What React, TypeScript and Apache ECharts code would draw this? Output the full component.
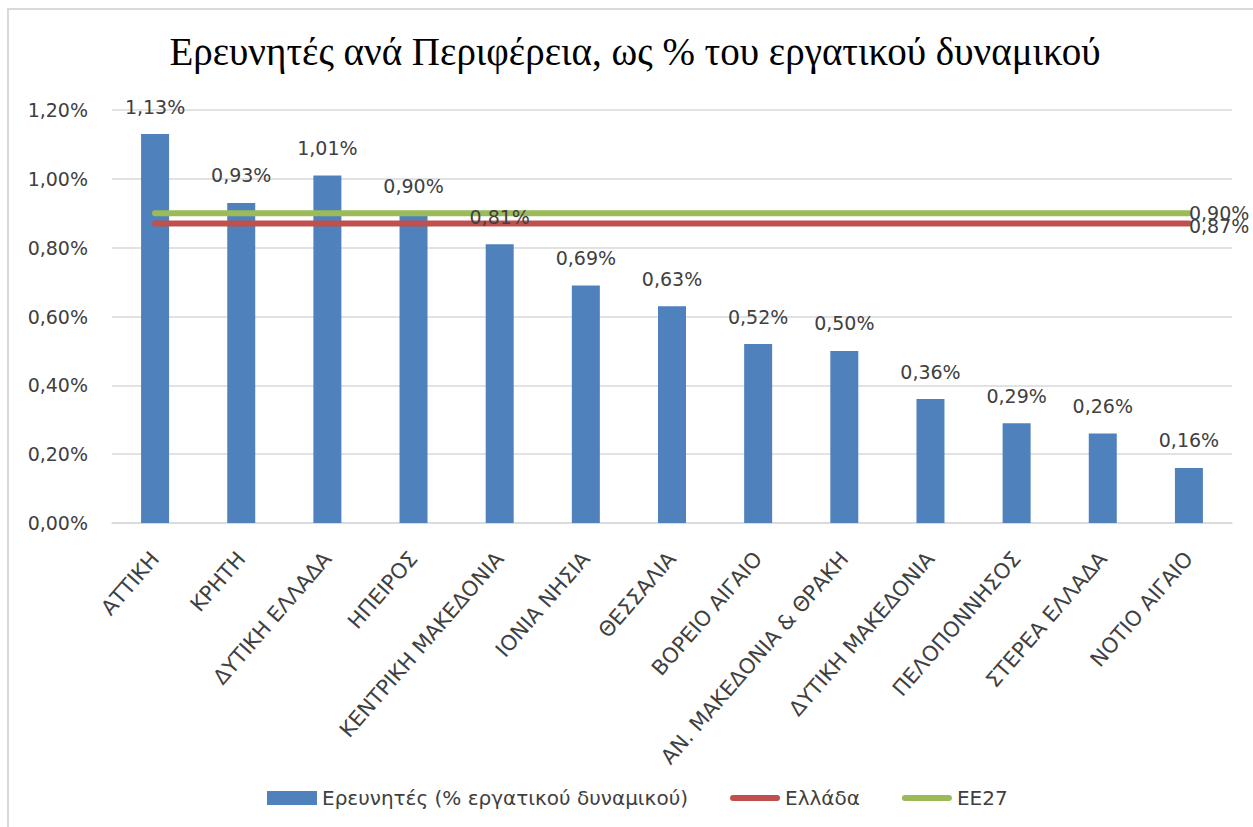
import React, { useEffect, useRef } from "react";
import * as echarts from "echarts";

const categories = [
  "ΑΤΤΙΚΗ",
  "ΚΡΗΤΗ",
  "ΔΥΤΙΚΗ ΕΛΛΑΔΑ",
  "ΗΠΕΙΡΟΣ",
  "ΚΕΝΤΡΙΚΗ ΜΑΚΕΔΟΝΙΑ",
  "ΙΟΝΙΑ ΝΗΣΙΑ",
  "ΘΕΣΣΑΛΙΑ",
  "ΒΟΡΕΙΟ ΑΙΓΑΙΟ",
  "ΑΝ. ΜΑΚΕΔΟΝΙΑ & ΘΡΑΚΗ",
  "ΔΥΤΙΚΗ ΜΑΚΕΔΟΝΙΑ",
  "ΠΕΛΟΠΟΝΝΗΣΟΣ",
  "ΣΤΕΡΕΑ ΕΛΛΑΔΑ",
  "ΝΟΤΙΟ ΑΙΓΑΙΟ",
];

const researchers = [1.13, 0.93, 1.01, 0.9, 0.81, 0.69, 0.63, 0.52, 0.5, 0.36, 0.29, 0.26, 0.16];
const greeceValue = 0.87;
const eu27Value = 0.9;
const greece = categories.map(() => greeceValue);
const eu27 = categories.map(() => eu27Value);

const seriesNames = ["Ερευνητές (% εργατικού δυναμικού)", "Ελλάδα", "ΕΕ27"];
const titleText = "Ερευνητές ανά Περιφέρεια, ως % του εργατικού δυναμικού";

const fmt = (v: number) => v.toFixed(2).replace(".", ",") + "%";

const FONT = "DejaVu Sans";
const TXT = "#404040";
const GRID = "#d9d9d9";
const BLUE = "#4F81BD";
const RED = "#C0504D";
const GREEN = "#9BBB59";
const LINE_ICON = "path://M3,0 L47,0 A3,3 0 0 1 47,6 L3,6 A3,3 0 0 1 3,0 Z";

export default function App() {
  const ref = useRef<HTMLDivElement>(null);
  useEffect(() => {
    if (!ref.current) return;
    const chart = echarts.init(ref.current, undefined, { renderer: "svg" });
    const endLabel = {
      show: true,
      distance: 0,
      fontFamily: FONT,
      fontSize: 19,
      color: TXT,
      formatter: (p: any) => fmt(p.value),
    };
    chart.setOption({
      animation: false,
      backgroundColor: "#ffffff",
      title: {
        text: titleText,
        left: 630,
        textAlign: "center",
        top: 27,
        textStyle: {
          fontFamily: "Liberation Serif",
          fontSize: 39,
          fontWeight: "normal",
          color: "#000000",
        },
      },
      graphic: [
        { type: "line", shape: { x1: 8, y1: 8, x2: 8, y2: 827 }, style: { stroke: GRID, lineWidth: 2 } },
        { type: "line", shape: { x1: 8, y1: 9, x2: 1253, y2: 9 }, style: { stroke: GRID, lineWidth: 2 } },
      ],
      legend: {
        left: 262,
        top: 783,
        itemWidth: 50,
        itemHeight: 14,
        itemGap: 42,
        textStyle: { fontFamily: FONT, fontSize: 20, color: TXT },
        data: [
          { name: seriesNames[0], icon: "rect" },
          { name: seriesNames[1], icon: LINE_ICON, itemStyle: { color: RED } },
          { name: seriesNames[2], icon: LINE_ICON, itemStyle: { color: GREEN } },
        ],
      },
      grid: { left: 112, right: 21, top: 110, bottom: 304, containLabel: false },
      xAxis: {
        type: "category",
        data: categories,
        axisLine: { show: true, lineStyle: { color: GRID, width: 1.5 } },
        axisTick: { show: false },
        axisLabel: {
          interval: 0,
          rotate: 49,
          margin: 32,
          fontFamily: FONT,
          fontSize: 21,
          color: TXT,
        },
      },
      yAxis: {
        type: "value",
        min: 0,
        max: 1.2,
        interval: 0.2,
        axisLine: { show: false },
        axisTick: { show: false },
        splitLine: { lineStyle: { color: GRID, width: 1.5 } },
        axisLabel: {
          margin: 24,
          fontFamily: FONT,
          fontSize: 19,
          color: TXT,
          formatter: (v: number) => fmt(v),
        },
      },
      series: [
        {
          name: seriesNames[0],
          type: "bar",
          data: researchers,
          barWidth: 28,
          itemStyle: { color: BLUE },
          z: 2,
        },
        {
          name: seriesNames[1],
          type: "line",
          data: greece,
          symbol: "none",
          lineStyle: { color: RED, width: 6, cap: "round" },
          itemStyle: { color: RED },
          endLabel: { ...endLabel, offset: [0, 2] },
          z: 3,
        },
        {
          name: seriesNames[2],
          type: "line",
          data: eu27,
          symbol: "none",
          lineStyle: { color: GREEN, width: 6, cap: "round" },
          itemStyle: { color: GREEN },
          endLabel: { ...endLabel, offset: [0, 0] },
          z: 4,
        },
        {
          name: "labels",
          type: "bar",
          data: researchers,
          barWidth: 28,
          barGap: "-100%",
          itemStyle: { color: "rgba(0,0,0,0)" },
          silent: true,
          z: 10,
          label: {
            show: true,
            position: "top",
            distance: 18,
            fontFamily: FONT,
            fontSize: 19,
            color: TXT,
            formatter: (p: any) => fmt(p.value),
          },
        },
      ],
    });
    return () => chart.dispose();
  }, []);
  return (
    <div
      ref={ref}
      style={{ position: "fixed", left: 0, top: 0, width: 1253, height: 827, background: "#fff" }}
    />
  );
}
